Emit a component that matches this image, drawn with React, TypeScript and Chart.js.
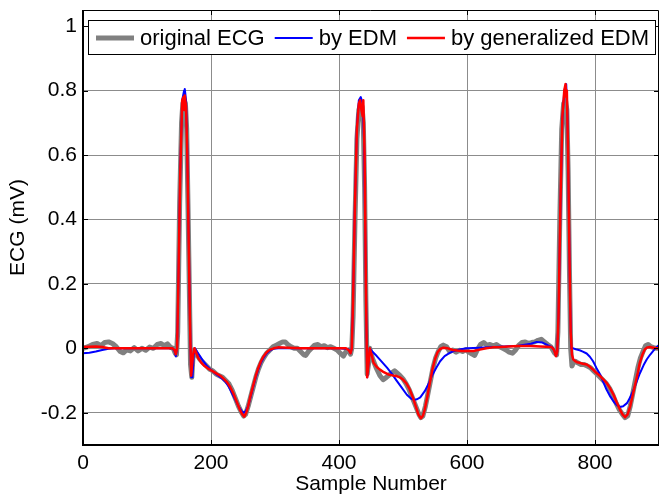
import { useEffect, useRef } from "react";
import { Chart, registerables } from "chart.js";
Chart.register(...registerables);

const xTicks = [0, 200, 400, 600, 800];
const yTicks = [-0.2, 0, 0.2, 0.4, 0.6, 0.8, 1];
const seriesNames = ["original ECG", "by EDM", "by generalized EDM"];
const seriesColors = ["#808080", "#0000ff", "#ff0000"];
const seriesWidths = [5, 2, 2.5];

// [sample, mV]
const originalEcg: [number, number][] = [
  [0, 0.0], [8, 0.005], [15, 0.012], [22, 0.015], [28, 0.008], [34, 0.018], [40, 0.02], [46, 0.015],
  [52, 0.005], [58, -0.01], [63, -0.014], [68, -0.005], [74, -0.008], [80, 0.002], [86, -0.008],
  [92, 0.0], [98, -0.006], [104, 0.004], [110, 0.0], [116, 0.012], [122, 0.015], [127, 0.008],
  [132, 0.014], [137, 0.003], [141, 0.0], [144, -0.015], [146, -0.02], [148, 0.05], [151, 0.45],
  [154, 0.7], [156, 0.76], [158, 0.77], [160, 0.76], [162, 0.68], [164, 0.45], [166, 0.2],
  [168, -0.05], [170, -0.09], [172, -0.02], [174, -0.005], [178, -0.02], [183, -0.035], [188, -0.045],
  [193, -0.055], [198, -0.065], [203, -0.07], [208, -0.08], [213, -0.085], [218, -0.09], [223, -0.1],
  [228, -0.11], [233, -0.13], [238, -0.155], [243, -0.18], [248, -0.2], [251, -0.21], [254, -0.205],
  [258, -0.18], [262, -0.15], [266, -0.12], [270, -0.09], [274, -0.065], [278, -0.045], [282, -0.03],
  [287, -0.015], [292, -0.005], [297, 0.005], [302, 0.01], [307, 0.015], [312, 0.02], [316, 0.02],
  [320, 0.012], [325, 0.005], [330, 0.0], [335, 0.0], [340, -0.01], [345, -0.02], [348, -0.022],
  [352, -0.01], [357, 0.0], [362, 0.01], [367, 0.012], [372, 0.005], [377, 0.008], [382, 0.002],
  [387, 0.005], [392, 0.0], [397, -0.005], [402, -0.015], [407, -0.024], [411, -0.01], [415, -0.005],
  [418, -0.018], [420, 0.0], [422, 0.1], [425, 0.4], [428, 0.65], [431, 0.74], [434, 0.76],
  [436, 0.75], [438, 0.7], [440, 0.5], [442, 0.15], [444, -0.08], [446, -0.05], [448, 0.0],
  [452, -0.03], [458, -0.06], [464, -0.085], [469, -0.097], [474, -0.09], [480, -0.08], [487, -0.07],
  [495, -0.084], [500, -0.095], [505, -0.11], [510, -0.13], [515, -0.155], [520, -0.18], [525, -0.205],
  [528, -0.215], [531, -0.21], [535, -0.18], [539, -0.14], [543, -0.1], [547, -0.06], [551, -0.03],
  [555, -0.01], [559, 0.005], [563, 0.01], [568, 0.005], [573, -0.01], [578, -0.005], [583, -0.012],
  [588, -0.006], [593, -0.01], [598, -0.004], [603, -0.012], [608, -0.018], [612, -0.022], [616, -0.005],
  [621, 0.012], [626, 0.018], [631, 0.01], [636, 0.012], [641, 0.008], [646, 0.012], [651, 0.005],
  [656, 0.0], [661, -0.005], [666, -0.012], [671, -0.015], [676, -0.005], [681, 0.01], [686, 0.018],
  [691, 0.02], [696, 0.015], [701, 0.018], [706, 0.02], [711, 0.025], [716, 0.028], [721, 0.02],
  [726, 0.012], [731, 0.005], [737, -0.015], [740, -0.02], [742, 0.05], [745, 0.4], [748, 0.68],
  [751, 0.76], [754, 0.77], [756, 0.74], [758, 0.55], [760, 0.25], [762, 0.0], [764, -0.055],
  [766, -0.045], [769, -0.04], [773, -0.045], [778, -0.05], [783, -0.05], [788, -0.055], [793, -0.06],
  [798, -0.07], [803, -0.08], [808, -0.09], [813, -0.1], [818, -0.11], [823, -0.125], [828, -0.145],
  [833, -0.17], [838, -0.19], [843, -0.205], [847, -0.215], [851, -0.21], [855, -0.18], [859, -0.14],
  [863, -0.1], [867, -0.06], [871, -0.03], [875, -0.01], [879, 0.008], [883, 0.012], [887, 0.005],
  [892, 0.002], [897, 0.0], [900, 0.0],
];

const byEdm: [number, number][] = [
  [0, -0.015], [10, -0.014], [20, -0.01], [30, -0.005], [40, -0.001], [50, 0.0], [100, 0.0],
  [140, 0.0], [143, -0.008], [145, -0.025], [147, 0.0], [149, 0.2], [152, 0.56], [155, 0.77],
  [158, 0.8], [159, 0.805], [161, 0.77], [163, 0.62], [165, 0.37], [167, 0.1], [169, -0.09],
  [171, -0.09], [173, -0.02], [175, 0.0], [178, -0.01], [183, -0.025], [188, -0.04], [193, -0.053],
  [198, -0.063], [203, -0.072], [208, -0.08], [213, -0.087], [218, -0.095], [223, -0.105], [228, -0.12],
  [233, -0.14], [238, -0.16], [243, -0.18], [248, -0.195], [251, -0.2], [254, -0.195], [258, -0.18],
  [262, -0.15], [266, -0.12], [270, -0.09], [274, -0.065], [278, -0.045], [282, -0.03], [287, -0.016],
  [292, -0.007], [298, -0.001], [305, 0.0], [350, 0.0], [400, 0.0], [415, -0.003], [418, -0.015],
  [420, 0.0], [422, 0.15], [425, 0.46], [428, 0.69], [431, 0.77], [434, 0.78], [437, 0.76],
  [439, 0.65], [441, 0.35], [443, 0.05], [444, -0.09], [446, -0.05], [448, 0.0], [452, -0.01],
  [459, -0.024], [467, -0.042], [475, -0.06], [483, -0.08], [490, -0.1], [498, -0.122], [506, -0.144],
  [512, -0.155], [517, -0.16], [522, -0.158], [527, -0.152], [534, -0.133], [540, -0.11], [545, -0.086],
  [552, -0.06], [558, -0.04], [565, -0.024], [573, -0.014], [580, -0.008], [590, -0.003], [600, 0.0],
  [620, 0.002], [650, 0.005], [680, 0.008], [700, 0.014], [709, 0.02], [718, 0.018], [726, 0.01],
  [733, 0.004], [737, -0.01], [739, -0.024], [741, -0.01], [743, 0.1], [746, 0.44], [749, 0.71],
  [752, 0.8], [755, 0.82], [757, 0.72], [759, 0.45], [761, 0.15], [763, 0.0], [766, 0.0],
  [770, -0.003], [776, -0.006], [781, -0.01], [787, -0.016], [792, -0.026], [797, -0.04], [802, -0.06],
  [808, -0.081], [813, -0.105], [818, -0.128], [824, -0.15], [829, -0.165], [834, -0.176], [839, -0.182],
  [844, -0.18], [850, -0.17], [855, -0.152], [860, -0.13], [865, -0.104], [870, -0.078], [876, -0.052],
  [881, -0.034], [886, -0.02], [891, -0.008], [896, 0.003], [900, 0.01],
];

const byGeneralizedEdm: [number, number][] = [
  [0, 0.004], [10, 0.005], [20, 0.006], [30, 0.004], [40, 0.0], [90, 0.0], [140, 0.0], [143, -0.005],
  [145, -0.018], [147, 0.0], [149, 0.2], [152, 0.55], [155, 0.77], [157, 0.78], [158, 0.74],
  [159, 0.785], [161, 0.75], [163, 0.6], [165, 0.35], [167, 0.1], [169, -0.085], [170, -0.085],
  [172, -0.02], [174, 0.0], [176, -0.01], [180, -0.03], [185, -0.045], [190, -0.055], [195, -0.062],
  [200, -0.068], [205, -0.074], [210, -0.08], [215, -0.086], [220, -0.095], [225, -0.105], [230, -0.12],
  [235, -0.14], [240, -0.165], [245, -0.19], [249, -0.205], [252, -0.212], [255, -0.2], [258, -0.18],
  [262, -0.145], [266, -0.115], [270, -0.085], [274, -0.06], [278, -0.04], [282, -0.025], [287, -0.012],
  [292, -0.004], [298, 0.0], [305, 0.003], [320, 0.002], [340, 0.0], [380, 0.0], [411, 0.0],
  [415, -0.005], [418, -0.015], [420, 0.0], [422, 0.15], [425, 0.45], [428, 0.68], [431, 0.76],
  [433, 0.77], [435, 0.74], [437, 0.72], [438, 0.77], [440, 0.6], [442, 0.2], [444, -0.09],
  [446, -0.05], [448, 0.0], [451, -0.02], [454, -0.045], [459, -0.058], [464, -0.066], [470, -0.074],
  [477, -0.081], [484, -0.084], [490, -0.086], [495, -0.09], [500, -0.097], [505, -0.108], [510, -0.125],
  [515, -0.15], [520, -0.18], [524, -0.205], [528, -0.217], [531, -0.21], [534, -0.19], [538, -0.15],
  [542, -0.107], [546, -0.065], [550, -0.034], [554, -0.012], [558, -0.002], [563, 0.002], [570, 0.0],
  [578, -0.005], [585, -0.007], [592, -0.008], [600, -0.008], [610, -0.008], [620, -0.004], [630, 0.0],
  [640, 0.003], [652, 0.004], [665, 0.006], [680, 0.007], [700, 0.007], [715, 0.006], [732, 0.004],
  [736, -0.005], [739, -0.024], [741, -0.01], [743, 0.1], [746, 0.45], [749, 0.72], [752, 0.8],
  [754, 0.82], [755, 0.78], [756, 0.8], [758, 0.6], [760, 0.3], [762, 0.05], [764, -0.02],
  [766, -0.034], [769, -0.04], [772, -0.043], [776, -0.045], [781, -0.048], [787, -0.05], [792, -0.057],
  [797, -0.066], [802, -0.076], [808, -0.086], [813, -0.096], [818, -0.107], [823, -0.122], [829, -0.144],
  [834, -0.168], [839, -0.19], [843, -0.205], [847, -0.214], [851, -0.205], [855, -0.18], [859, -0.145],
  [863, -0.11], [867, -0.075], [870, -0.045], [874, -0.02], [878, -0.003], [882, 0.003], [886, 0.004],
  [891, 0.002], [896, 0.0], [900, 0.0],
];

const FONT = "'Liberation Sans', Arial, Helvetica, sans-serif";

const frameAndLegend = {
  id: "frameAndLegend",
  afterDatasetsDraw(chart: any) {
    const ctx = chart.ctx as CanvasRenderingContext2D;
    const { left, right, top, bottom } = chart.chartArea;
    const xs = chart.scales.x;
    const ys = chart.scales.y;
    ctx.save();
    ctx.strokeStyle = "#000";
    ctx.lineWidth = 1;
    ctx.beginPath();
    ctx.moveTo(left, top + 0.5);
    ctx.lineTo(right - 0.5, top + 0.5);
    ctx.lineTo(right - 0.5, bottom);
    ctx.stroke();
    ctx.lineWidth = 2;
    ctx.beginPath();
    ctx.moveTo(left, top);
    ctx.lineTo(left, bottom);
    ctx.lineTo(right, bottom);
    ctx.stroke();
    ctx.lineWidth = 1;
    ctx.beginPath();
    for (const v of xTicks) {
      const px = Math.round(xs.getPixelForValue(v)) + 0.5;
      ctx.moveTo(px, bottom);
      ctx.lineTo(px, bottom - 5);
      ctx.moveTo(px, top);
      ctx.lineTo(px, top + 5);
    }
    for (const v of yTicks) {
      const py = Math.round(ys.getPixelForValue(v)) + 0.5;
      ctx.moveTo(left, py);
      ctx.lineTo(left + 5, py);
      ctx.moveTo(right, py);
      ctx.lineTo(right - 5, py);
    }
    ctx.stroke();

    // legend
    const bx = left + 5;
    const by = top + 10;
    const bw = right - left - 8;
    const bh = 35;
    ctx.fillStyle = "#fff";
    ctx.fillRect(bx, by, bw, bh);
    ctx.strokeStyle = "#000";
    ctx.lineWidth = 1;
    ctx.strokeRect(bx + 0.5, by + 0.5, bw - 1, bh - 1);
    ctx.font = `22px ${FONT}`;
    ctx.textBaseline = "middle";
    ctx.textAlign = "left";
    const cy = by + bh / 2 + 0.5;
    let x = bx + 8;
    for (let i = 0; i < seriesNames.length; i++) {
      ctx.strokeStyle = seriesColors[i];
      ctx.lineWidth = seriesWidths[i];
      ctx.beginPath();
      ctx.moveTo(x, cy);
      ctx.lineTo(x + 38, cy);
      ctx.stroke();
      x += 44;
      ctx.fillStyle = "#000";
      ctx.fillText(seriesNames[i], x, cy + 1);
      x += ctx.measureText(seriesNames[i]).width + 10;
    }
    ctx.restore();
  },
};

export default function App() {
  const ref = useRef<HTMLCanvasElement | null>(null);
  useEffect(() => {
    if (!ref.current) return;
    const series = [originalEcg, byEdm, byGeneralizedEdm];
    const chart = new Chart(ref.current, {
      type: "line",
      data: {
        datasets: series.map((s, i) => ({
          label: seriesNames[i],
          data: s.map(([x, y]) => ({ x, y })),
          borderColor: seriesColors[i],
          borderWidth: seriesWidths[i],
          pointRadius: 0,
          tension: 0,
          fill: false,
          order: 3 - i,
          borderJoinStyle: "round" as const,
          borderCapStyle: "round" as const,
        })),
      },
      options: {
        responsive: false,
        animation: false,
        devicePixelRatio: 1,
        layout: { padding: { top: 10, right: 6, left: 0, bottom: 0 } },
        plugins: { legend: { display: false }, tooltip: { enabled: false } },
        scales: {
          x: {
            type: "linear",
            min: 0,
            max: 900,
            afterBuildTicks: (s: any) => {
              s.ticks = xTicks.map((v) => ({ value: v }));
            },
            afterFit: (s: any) => {
              s.height = 50;
              s.paddingLeft = 0;
              s.paddingRight = 0;
            },
            grid: { color: "#8c8c8c", lineWidth: 1, drawTicks: false },
            border: { display: false },
            ticks: {
              padding: 6,
              color: "#000",
              autoSkip: false,
              maxRotation: 0,
              font: { family: FONT, size: 21 },
              callback: (v: any) => String(v),
            },
            title: {
              display: true,
              text: "Sample Number",
              color: "#000",
              font: { family: FONT, size: 21 },
              padding: { top: 0, bottom: -2 },
            },
          },
          y: {
            type: "linear",
            min: -0.3,
            max: 1.05,
            afterBuildTicks: (s: any) => {
              s.ticks = yTicks.map((v) => ({ value: v }));
            },
            afterFit: (s: any) => {
              s.width = 83;
              s.paddingTop = 0;
              s.paddingBottom = 0;
            },
            grid: { color: "#8c8c8c", lineWidth: 1, drawTicks: false },
            border: { display: false },
            ticks: {
              padding: 6,
              color: "#000",
              autoSkip: false,
              font: { family: FONT, size: 21 },
              callback: (v: any) => String(Math.round(v * 10) / 10),
            },
            title: {
              display: true,
              text: "ECG (mV)",
              color: "#000",
              font: { family: FONT, size: 21 },
              padding: { top: 6, bottom: 0 },
            },
          },
        },
      },
      plugins: [frameAndLegend],
    });
    return () => chart.destroy();
  }, []);
  return (
    <div style={{ position: "absolute", left: 0, top: 0, width: 665, height: 495, background: "#fff" }}>
      <canvas ref={ref} width={665} height={495} style={{ display: "block" }} />
    </div>
  );
}
